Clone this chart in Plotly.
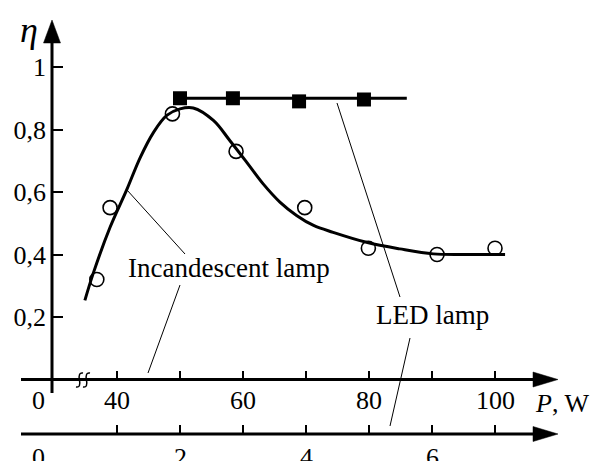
import plotly.graph_objects as go

W, H = 599, 461          # browser window = figure size (body margin removed below)

# ---------------- data ----------------
# smooth fitted curve for the incandescent lamp (P in W, efficiency eta)
inc_fit_P = [34.9, 36.2, 38.9, 41.5, 43.7, 45.8, 47.9, 50.0, 52.1, 55.3, 57.9, 60.6,
             63.2, 65.9, 68.5, 71.2, 74.3, 79.6, 84.9, 90.2, 95.5, 101.6]
inc_fit_eta = [0.253, 0.338, 0.487, 0.605, 0.711, 0.791, 0.845, 0.866, 0.869, 0.829, 0.765, 0.695,
               0.626, 0.567, 0.525, 0.493, 0.471, 0.439, 0.418, 0.402, 0.400, 0.400]
# measured points, incandescent lamp (upper axis, P in W)
inc_P = [36.8, 38.9, 48.8, 58.9, 69.8, 79.9, 90.8, 100.0]
inc_eta = [0.32, 0.55, 0.85, 0.73, 0.55, 0.42, 0.40, 0.42]
# measured points, LED lamp (lower axis, P in W)
led_P = [2.0, 2.84, 3.89, 4.92]
led_eta = [0.90, 0.90, 0.89, 0.896]
led_fit_P = [2.0, 5.6]
led_fit_eta = [0.90, 0.90]

# tick labels
p_major = [40, 60, 80, 100]
p_minor = [50, 70, 90]
u_major = [2, 4, 6]
u_minor = [1, 3, 5, 7]
eta_ticks = [0.2, 0.4, 0.6, 0.8, 1.0]
eta_labels = ["0,2", "0,4", "0,6", "0,8", "1"]

# ---------------- pixel calibration of the axes ----------------
P40_PX, P_SCALE = 117.0, 6.3          # px of P=40 W, px per W
U0_PX, U_SCALE = 54.0, 63.0           # px of u=0, px per unit
ETA0_PY, ETA_SCALE = 379.5, 312.5     # py of eta=0, px per unit eta
YAX_PX, XAX1_PY, XAX2_PY = 52.0, 379.5, 434.0
LAB1_PY, LAB2_PY = 400.0, 457.0       # centres of the x tick labels


def X(px):
    return px / W


def Y(py):
    return 1 - py / H


p_range = [40 + (0 - P40_PX) / P_SCALE, 40 + (W - P40_PX) / P_SCALE]
u_range = [(0 - U0_PX) / U_SCALE, (W - U0_PX) / U_SCALE]
eta_range = [(ETA0_PY - H) / ETA_SCALE, ETA0_PY / ETA_SCALE]

FONT = "Liberation Serif"

fig = go.Figure()

fig.add_trace(go.Scatter(x=inc_fit_P, y=inc_fit_eta, mode="lines",
                         line=dict(color="black", width=3, shape="spline", smoothing=1.0),
                         xaxis="x", yaxis="y", showlegend=False, hoverinfo="skip"))
fig.add_trace(go.Scatter(x=inc_P, y=inc_eta, mode="markers",
                         marker=dict(symbol="circle-open", size=14, color="black",
                                     line=dict(width=1.6, color="black")),
                         xaxis="x", yaxis="y", showlegend=False))
fig.add_trace(go.Scatter(x=led_fit_P, y=led_fit_eta, mode="lines",
                         line=dict(color="black", width=3),
                         xaxis="x2", yaxis="y", showlegend=False, hoverinfo="skip"))
fig.add_trace(go.Scatter(x=led_P, y=led_eta, mode="markers",
                         marker=dict(symbol="square", size=14, color="black",
                                     line=dict(width=0)),
                         xaxis="x2", yaxis="y", showlegend=False))

tickfont = dict(family=FONT, size=26, color="black")

fig.update_layout(
    width=W, height=H,
    margin=dict(l=0, r=0, t=0, b=0),
    paper_bgcolor="white", plot_bgcolor="white",
    xaxis=dict(domain=[0, 1], range=p_range, anchor="free", position=Y(XAX1_PY),
               showgrid=False, zeroline=False, showline=False, showticklabels=False,
               tickmode="array", tickvals=p_major,
               ticks="inside", ticklen=9, tickwidth=2, tickcolor="black",
               minor=dict(tickmode="array", tickvals=p_minor, ticks="inside",
                          ticklen=9, tickwidth=2, tickcolor="black", showgrid=False),
               fixedrange=True),
    xaxis2=dict(domain=[0, 1], range=u_range, anchor="free", position=Y(XAX2_PY),
                overlaying="x", side="bottom",
                showgrid=False, zeroline=False, showline=False, showticklabels=False,
                tickmode="array", tickvals=u_major,
                ticks="inside", ticklen=9, tickwidth=2, tickcolor="black",
                minor=dict(tickmode="array", tickvals=u_minor, ticks="inside",
                           ticklen=9, tickwidth=2, tickcolor="black", showgrid=False),
                fixedrange=True),
    yaxis=dict(domain=[0, 1], range=eta_range, anchor="free", position=X(YAX_PX),
               showgrid=False, zeroline=False, showline=False,
               tickmode="array", tickvals=eta_ticks, ticktext=eta_labels,
               ticks="inside", ticklen=10, tickwidth=2, tickcolor="black",
               tickfont=tickfont, ticklabelstandoff=6, fixedrange=True),
)

shapes = []
# axis lines
shapes.append(dict(type="line", xref="paper", yref="paper",
                   x0=X(YAX_PX), x1=X(YAX_PX), y0=Y(393), y1=Y(40),
                   line=dict(color="black", width=3)))
for py in (XAX1_PY, XAX2_PY):
    shapes.append(dict(type="line", xref="paper", yref="paper",
                       x0=X(21), x1=X(540), y0=Y(py), y1=Y(py),
                       line=dict(color="black", width=3)))
    # arrow head
    shapes.append(dict(type="path", xref="paper", yref="paper",
                       path=f"M{X(533)},{Y(py - 7.5)} L{X(558)},{Y(py)} L{X(533)},{Y(py + 7.5)} Z",
                       fillcolor="black", line=dict(color="black", width=0.5)))
shapes.append(dict(type="path", xref="paper", yref="paper",
                   path=f"M{X(43.5)},{Y(43)} L{X(52)},{Y(20)} L{X(60.5)},{Y(43)} Z",
                   fillcolor="black", line=dict(color="black", width=0.5)))
# axis break symbol
for cx in (79.5, 86.5):
    shapes.append(dict(type="path", xref="paper", yref="paper",
                       path=(f"M{X(cx + 3.5)},{Y(373)} Q{X(cx - 1.5)},{Y(372)} {X(cx)},{Y(380)} "
                             f"Q{X(cx + 1.5)},{Y(388)} {X(cx - 3.5)},{Y(387)}"),
                       line=dict(color="black", width=1.5)))
# leader lines
for (x0, y0, x1, y1) in [(127, 190, 185, 254), (180, 285, 148, 373),
                         (337, 103, 400, 297), (410, 338, 390, 426)]:
    shapes.append(dict(type="line", xref="paper", yref="paper",
                       x0=X(x0), y0=Y(y0), x1=X(x1), y1=Y(y1),
                       line=dict(color="black", width=1)))
fig.update_layout(shapes=shapes)

annotations = [
    dict(text="<i>η</i>", x=X(29), y=Y(30), size=36, xanchor="center"),
    dict(text="0", x=X(38), y=Y(LAB1_PY), size=26, xanchor="center"),
    dict(text="0", x=X(38), y=Y(LAB2_PY), size=26, xanchor="center"),
    dict(text="Incandescent lamp", x=X(229), y=Y(268), size=27, xanchor="center"),
    dict(text="LED lamp", x=X(432), y=Y(315), size=27, xanchor="center"),
    dict(text="<i>P</i>, W", x=X(533), y=Y(403), size=26, xanchor="left"),
]
ann = [dict(text=a["text"], x=a["x"], y=a["y"], xref="paper", yref="paper",
            xanchor=a["xanchor"], yanchor="middle", showarrow=False,
            font=dict(family=FONT, size=a["size"], color="black"))
       for a in annotations]
# x tick labels, placed through the axes' own scales
for v in p_major:
    ann.append(dict(text=str(v), x=v, xref="x", y=Y(LAB1_PY), yref="paper",
                    xanchor="center", yanchor="middle", showarrow=False, font=tickfont))
for v in u_major:
    ann.append(dict(text=str(v), x=v, xref="x2", y=Y(LAB2_PY), yref="paper",
                    xanchor="center", yanchor="middle", showarrow=False, font=tickfont))
fig.update_layout(annotations=ann)

fig.write_html(
    "out.html",
    config={"displayModeBar": False},
    post_script="document.body.style.margin='0px';document.body.style.overflow='hidden';",
)
